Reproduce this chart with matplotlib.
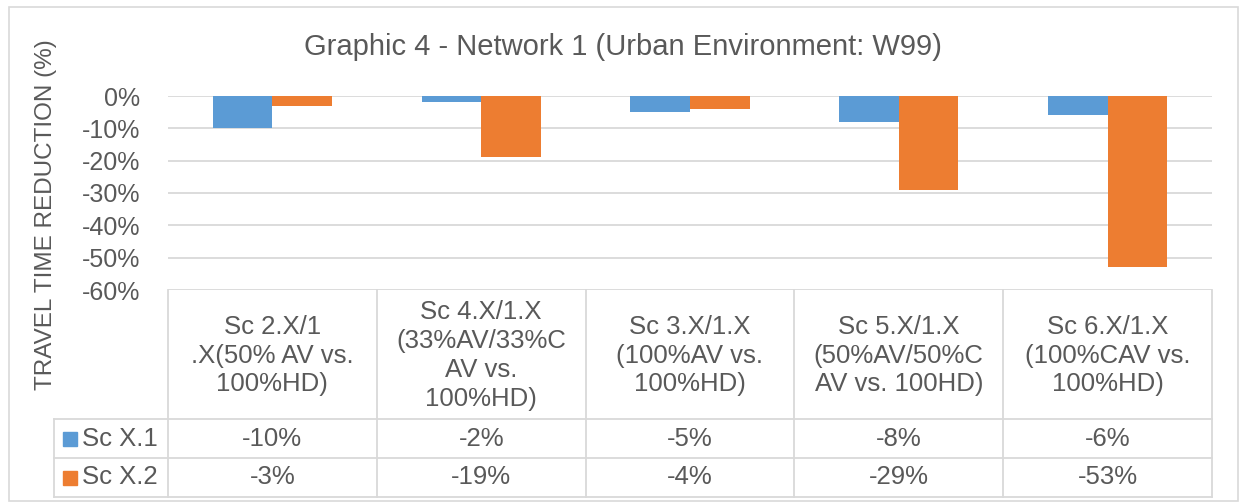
import matplotlib.pyplot as plt
from matplotlib.patches import Rectangle
import numpy as np

plt.rcParams['font.family'] = ['Liberation Sans', 'DejaVu Sans']

# Scenario comparisons and travel time reduction per series
categories = [
    'Sc 2.X/1\n.X(50% AV vs.\n100%HD)',
    'Sc 4.X/1.X\n(33%AV/33%C\nAV vs.\n100%HD)',
    'Sc 3.X/1.X\n(100%AV vs.\n100%HD)',
    'Sc 5.X/1.X\n(50%AV/50%C\nAV vs. 100HD)',
    'Sc 6.X/1.X\n(100%CAV vs.\n100%HD)',
]
series_names = ['Sc X.1', 'Sc X.2']
sc_x1 = [-0.10, -0.02, -0.05, -0.08, -0.06]
sc_x2 = [-0.03, -0.19, -0.04, -0.29, -0.53]
yticks = [0, -0.1, -0.2, -0.3, -0.4, -0.5, -0.6]

colors = ['#5B9BD5', '#ED7D31']
text_col = '#595959'
grid_col = '#D9D9D9'
fs_tick = 18
fs_tab = 18.5

W, H = 1243, 504
fig = plt.figure(figsize=(W / 100, H / 100), dpi=100)

def frac(x0, y0, x1, y1):
    # pixel box (top-left origin) -> figure fraction rect
    return [x0 / W, 1 - y1 / H, (x1 - x0) / W, (y1 - y0) / H]

# outer chart border
fig.patches.append(Rectangle((9 / W, 1 - 501 / H), (1238 - 9) / W, (501 - 7) / H,
                             transform=fig.transFigure, fill=False,
                             edgecolor=grid_col, linewidth=1.2))

left, right, top, bottom = 168, 1212, 96, 290
ax = fig.add_axes(frac(left, top, right, bottom))
x = np.arange(len(categories))
bw = 0.285
ax.bar(x - bw / 2, sc_x1, bw, color=colors[0], zorder=3)
ax.bar(x + bw / 2, sc_x2, bw, color=colors[1], zorder=3)
ax.set_xlim(-0.5, len(categories) - 0.5)
ax.set_ylim(-0.6, 0)
ax.set_yticks(yticks)
ax.set_yticklabels([f'{round(v * 100)}%' for v in yticks], fontsize=fs_tick, color=text_col)
ax.set_xticks([])
ax.tick_params(axis='y', length=0, pad=20)
for s in ax.spines.values():
    s.set_visible(False)
for v in yticks:
    ax.axhline(v, color=grid_col, linewidth=1.3, zorder=1)

# data table below the plot, sharing the category scale
col_w = (right - left) / len(categories)
tab_left = 54
tab = fig.add_axes(frac(tab_left, bottom, right, 497))
tab.set_xlim(-0.5 - (left - tab_left) / col_w, len(categories) - 0.5)
tab.set_ylim(497, bottom)
tab.axis('off')
head_bot, row1_bot, row2_bot = 419, 458, 497
lw = 1.3
for i in range(len(categories) + 1):
    tab.plot([i - 0.5, i - 0.5], [bottom, row2_bot], color=grid_col, lw=lw, clip_on=False)
x_leg = tab.get_xlim()[0]
tab.plot([x_leg, x_leg], [head_bot, row2_bot], color=grid_col, lw=lw, clip_on=False)
for yy in (head_bot, row1_bot, row2_bot):
    tab.plot([x_leg, len(categories) - 0.5], [yy, yy], color=grid_col, lw=lw, clip_on=False)

for i, c in enumerate(categories):
    tab.text(i, (bottom + head_bot) / 2 + 1, c, ha='center', va='center', fontsize=fs_tab,
             color=text_col, linespacing=1.25)

rows = [(sc_x1, (head_bot + row1_bot) / 2), (sc_x2, (row1_bot + row2_bot) / 2)]
key_w = 14 / col_w
for k, (vals, yc) in enumerate(rows):
    for i, v in enumerate(vals):
        tab.text(i, yc, f'{round(v * 100)}%', ha='center', va='center', fontsize=fs_tab,
                 color=text_col)
    kx = x_leg + 9 / col_w
    tab.add_patch(Rectangle((kx, yc - 7), key_w, 14, color=colors[k], clip_on=False))
    tab.text(kx + key_w + 5 / col_w, yc, series_names[k], ha='left', va='center',
             fontsize=fs_tab, color=text_col)

fig.text(623 / W, 1 - 47 / H, 'Graphic 4 - Network 1 (Urban Environment: W99)',
         ha='center', va='center', fontsize=21, color=text_col)
fig.text(46 / W, 1 - 215 / H, 'TRAVEL TIME REDUCTION (%)', rotation=90,
         ha='center', va='center', fontsize=17.5, color=text_col)

fig.savefig('out.png', dpi=100)
